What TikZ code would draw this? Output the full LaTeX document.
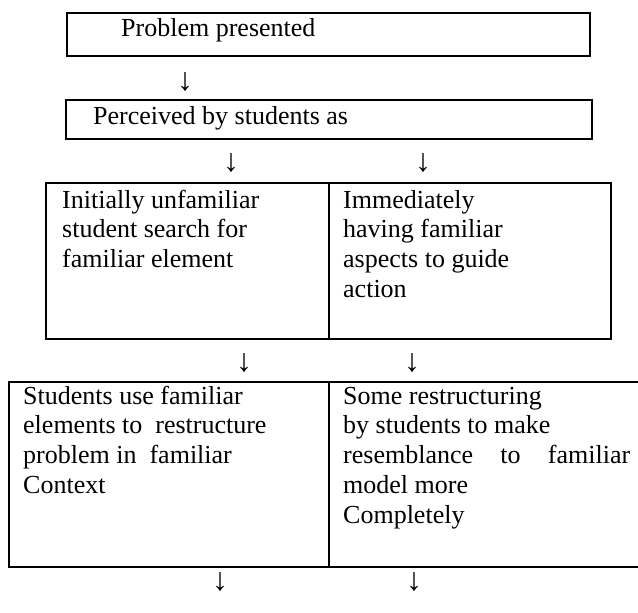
\documentclass[tikz,border=0pt]{standalone}
\usepackage{fontspec}
\setmainfont{Liberation Serif}
\usepackage{tikz}

\tikzset{
  box/.style={draw, line width=2pt, inner sep=0, anchor=north west},
  txt/.style={anchor=base west, inner sep=0, font=\fontsize{26}{29.8}\selectfont},
  arr/.style={inner sep=0, font=\fontsize{32}{34}\selectfont}
}

\begin{document}
\begin{tikzpicture}[x=1pt,y=-1pt]
\useasboundingbox (0,0) rectangle (638,613);

% boxes
\node[box, minimum width=523, minimum height=43] (problem) at (66,12) {};
\node[box, minimum width=526, minimum height=39] (perceived) at (65,99) {};
\node[box, minimum width=283, minimum height=156] (unfamiliar) at (45,182) {};
\node[box, minimum width=282, minimum height=156] (familiar) at (328,182) {};
\node[box, minimum width=320, minimum height=185] (restructure) at (8,381) {};
\node[box, minimum width=322, minimum height=185] (resemble) at (328,381) {};

% texts
\node[txt] (t1) at ([shift={(55,24)}]problem.north west) {Problem presented};
\node[txt] (t2) at ([shift={(28,25)}]perceived.north west) {Perceived by students as};
\node[txt] (t3) at ([shift={(17,26)}]unfamiliar.north west)
  {\parbox[t]{260pt}{Initially unfamiliar\\student search for\\familiar element}};
\node[txt] (t4) at ([shift={(15,26)}]familiar.north west)
  {\parbox[t]{260pt}{Immediately\\having familiar\\aspects to guide\\action}};
\node[txt] (t5) at ([shift={(15,23)}]restructure.north west)
  {\parbox[t]{300pt}{Students use familiar\\elements to \ restructure\\problem in \ familiar\\Context}};
\node[txt] (t6) at ([shift={(15,23)}]resemble.north west)
  {\parbox[t]{287pt}{Some restructuring\\by students to make\\\makebox[287pt][s]{resemblance to familiar}\\model more\\Completely}};

% arrows
\node[arr] (a1) at (185,82) {↓};
\node[arr] (a2) at (231,163) {↓};
\node[arr] (a3) at (423,163) {↓};
\node[arr] (a4) at (244,363) {↓};
\node[arr] (a5) at (412,363) {↓};
\node[arr] (a6) at (220,582) {↓};
\node[arr] (a7) at (414,582) {↓};
\end{tikzpicture}
\end{document}
